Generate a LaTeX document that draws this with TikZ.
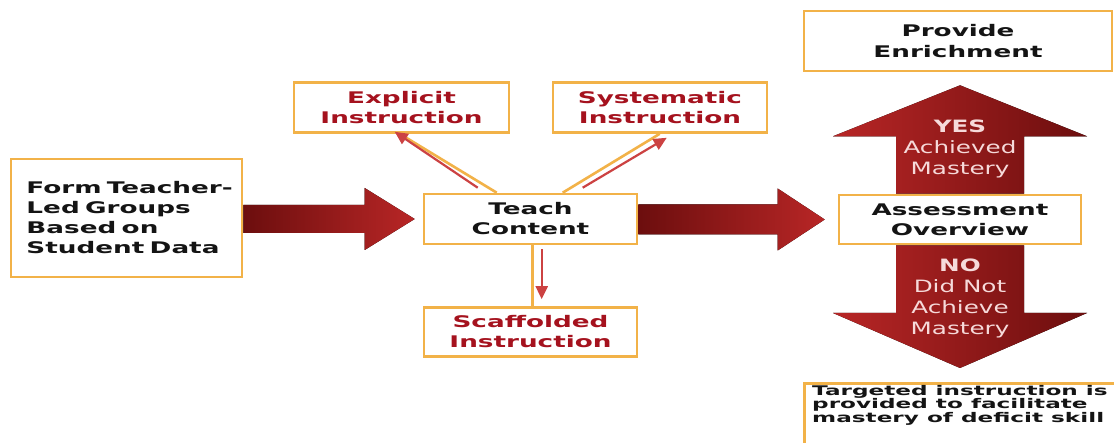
\documentclass[tikz,border=0pt]{standalone}
\usepackage{fontspec}
\setmainfont{DejaVu Sans}
\newfontfamily\fA{DejaVu Sans}[FakeStretch=1.64]
\newfontfamily\fB{DejaVu Sans}[FakeStretch=1.45]
\newfontfamily\fC{DejaVu Sans}[FakeStretch=1.74]
\usetikzlibrary{arrows.meta,calc}
\definecolor{boxor}{RGB}{242,178,72}
\definecolor{txtred}{RGB}{165,18,30}
\definecolor{ardark}{RGB}{108,14,14}
\definecolor{arlight}{RGB}{184,38,38}
\definecolor{thinred}{RGB}{204,66,66}
\definecolor{artext}{RGB}{246,218,218}
\begin{document}
\begin{tikzpicture}[x=1pt,y=-1pt,
  box/.style={draw=boxor,line width=2.6pt,fill=white,inner sep=0pt,
    font=\fA\bfseries\fontsize{16}{20}\selectfont,align=center,text=black!92},
  redtext/.style={text=txtred},
  link/.style={draw=boxor,line width=2.6pt},
  pointer/.style={draw=thinred,line width=2.2pt,-{Triangle[length=13pt,width=12pt]}},
  bigH/.style={left color=ardark,right color=arlight},
  bigV/.style={left color=arlight,right color=ardark},
  artxt/.style={text=artext,font=\fB\fontsize{17}{21}\selectfont,align=center}
]
\useasboundingbox (0,0) rectangle (1114,443);
\fill[white] (0,0) rectangle (1114,443);

% boxes
\node[box,minimum width=231,minimum height=118,text width=200,align=left] (form) at (126.5,218)
  {\mbox{Form Teacher-}\\Led Groups\\Based on\\Student Data};
\node[box,minimum width=215,minimum height=50,redtext] (explicit) at (401.5,107.5) {Explicit\\Instruction};
\node[box,minimum width=214,minimum height=50,redtext] (systematic) at (660,107.5) {Systematic\\Instruction};
\node[box,minimum width=213,minimum height=50] (teach) at (530.5,219) {Teach\\Content};
\node[box,minimum width=213,minimum height=49,redtext] (scaff) at (530.5,332) {Scaffolded\\Instruction};
\node[box,minimum width=308,minimum height=60,font=\fA\bfseries\fontsize{16}{21.5}\selectfont] (enrich) at (958,41) {Provide\\Enrichment};
\node[box,minimum width=330,minimum height=80,anchor=north west] (target) at (803,382) {};

% big arrows
\fill[bigH] let \p1=(form.east), \p2=([xshift=-8pt]teach.west) in
  (\x1,{\y2+14pt}) -- ({\x2-50pt},{\y2+14pt}) -- ({\x2-50pt},{\y2+31pt}) -- (\x2,\y2)
  -- ({\x2-50pt},{\y2-31pt}) -- ({\x2-50pt},{\y2-14pt}) -- (\x1,{\y2-14pt}) -- cycle;

\node[box,minimum width=242,minimum height=49] (assess) at (960,219.5) {Assessment\\Overview};

\fill[bigH] let \p1=(teach.east), \p2=([xshift=-13pt]assess.west) in
  (\x1,{\y2+15pt}) -- ({\x2-47pt},{\y2+15pt}) -- ({\x2-47pt},{\y2+31pt}) -- (\x2,\y2)
  -- ({\x2-47pt},{\y2-31pt}) -- ({\x2-47pt},{\y2-15pt}) -- (\x1,{\y2-15pt}) -- cycle;

\fill[bigV] let \p1=(assess.north), \p2=([yshift=-13pt]enrich.south) in
  ({\x1-64pt},\y1) -- ({\x1-64pt},{\y2-51pt}) -- ({\x1-127pt},{\y2-51pt}) -- (\x1,\y2)
  -- ({\x1+127pt},{\y2-51pt}) -- ({\x1+64pt},{\y2-51pt}) -- ({\x1+64pt},\y1) -- cycle;
\fill[bigV] let \p1=(assess.south), \p2=([yshift=14pt]target.north) in
  ({\x1-64pt},\y1) -- ({\x1-64pt},{\y2+55pt}) -- ({\x1-127pt},{\y2+55pt}) -- (\x1,\y2)
  -- ({\x1+127pt},{\y2+55pt}) -- ({\x1+64pt},{\y2+55pt}) -- ({\x1+64pt},\y1) -- cycle;

\node[artxt] (yes) at (960,149) {{\bfseries YES}\\Achieved\\Mastery};
\node[artxt] (no) at (960,298.5) {{\bfseries NO}\\Did Not\\Achieve\\Mastery};

\node[anchor=north west,align=left,inner sep=0pt,text=black!92,
  font=\fC\bfseries\fontsize{13.3}{13.5}\selectfont] (targettext) at (812,385)
  {Targeted instruction is\\provided to facilitate\\mastery of deficit skill};

% connectors
\draw[link] ([xshift=74pt]teach.north west) -- ([xshift=107pt]explicit.south west);
\draw[pointer] ([shift={(55,-5)}]teach.north west) -- ([shift={(102,-2)}]explicit.south west);
\draw[link] ([xshift=140pt]teach.north west) -- ([xshift=108pt]systematic.south west);
\draw[pointer] ([shift={(160,-5)}]teach.north west) -- ([shift={(115,4)}]systematic.south west);
\draw[link] ([xshift=110pt]teach.south west) -- ([xshift=110pt]scaff.north west);
\draw[pointer] ([shift={(119,4)}]teach.south west) -- ([shift={(119,-7)}]scaff.north west);
\end{tikzpicture}
\end{document}
